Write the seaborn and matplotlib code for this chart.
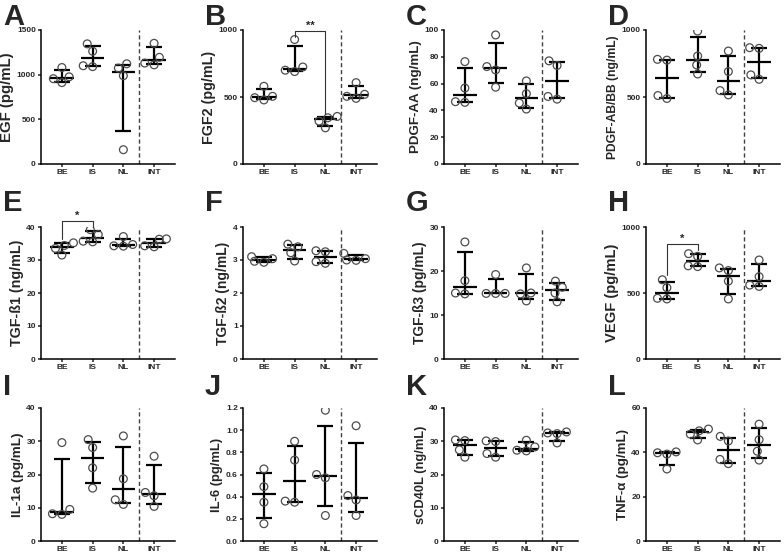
import numpy as np
import pandas as pd
import seaborn as sns
import matplotlib.pyplot as plt
from matplotlib.ticker import FormatStrFormatter

groups = ["BE", "IS", "NL", "INT"]
letters = list("ABCDEFGHIJKL")
ylabels = ["EGF (pg/mL)", "FGF2 (pg/mL)", "PDGF-AA (ng/mL)", "PDGF-AB/BB (ng/mL)",
           "TGF-ß1 (ng/mL)", "TGF-ß2 (ng/mL)", "TGF-ß3 (pg/mL)", "VEGF (pg/mL)",
           "IL-1a (pg/mL)", "IL-6 (pg/mL)", "sCD40L (ng/mL)", "TNF-α (pg/mL)"]
ymax = [1500, 1000, 100, 1000, 40, 4, 30, 1000, 40, 1.2, 40, 60]
ystep = [500, 500, 20, 500, 10, 1, 10, 500, 10, 0.2, 10, 20]

# four samples per group: BE, IS, NL, INT
egf = [[911, 955, 976, 1080], [1090, 1100, 1262, 1345], [160, 988, 1074, 1122], [1110, 1130, 1194, 1351]]
fgf2 = [[478, 495, 505, 580], [690, 700, 724, 929], [270, 320, 345, 355], [490, 505, 520, 607]]
pdgf_aa = [[46, 46.5, 56.7, 76.4], [57.3, 70.2, 72.7, 96.3], [41, 45.5, 52.5, 62], [48.4, 50.4, 73.5, 77]]
pdgf_abbb = [[489, 511, 775, 781], [672, 739, 806, 992], [516, 548, 690, 843], [632, 665, 863, 868]]
tgfb1 = [[31.5, 33.5, 34.4, 35.2], [35.5, 35.7, 37.7, 39.2], [34.2, 34.3, 34.7, 37.1], [34.0, 34.3, 36.3, 36.4]]
tgfb2 = [[2.93, 2.96, 3.04, 3.10], [2.97, 3.22, 3.40, 3.48], [2.90, 2.95, 3.25, 3.28], [2.99, 3.00, 3.04, 3.20]]
tgfb3 = [[14.8, 15.0, 17.8, 26.6], [14.9, 14.9, 14.9, 19.2], [13.2, 14.8, 15.0, 20.7], [13.0, 15.0, 16.3, 17.7]]
vegf = [[455, 460, 540, 600], [700, 706, 778, 798], [455, 590, 670, 690], [550, 560, 624, 750]]
il1a = [[8.0, 8.2, 9.5, 29.6], [15.9, 22.0, 28.1, 30.5], [11.0, 12.4, 18.7, 31.6], [10.4, 13.6, 14.6, 25.5]]
il6 = [[0.156, 0.35, 0.49, 0.65], [0.35, 0.36, 0.73, 0.90], [0.23, 0.57, 0.60, 1.18], [0.23, 0.37, 0.41, 1.04]]
scd40l = [[25.2, 27.4, 30.2, 30.4], [25.2, 26.3, 29.9, 30.1], [27.1, 27.3, 28.3, 30.3], [29.5, 32.3, 32.5, 32.8]]
tnfa = [[32.5, 39.2, 39.8, 40.2], [45.6, 48.2, 49.7, 50.5], [34.9, 36.8, 45.1, 47.2], [36.5, 40.5, 45.7, 52.7]]
panels = [egf, fgf2, pdgf_aa, pdgf_abbb, tgfb1, tgfb2, tgfb3, vegf, il1a, il6, scd40l, tnfa]

# significance brackets: panel, from group, to group, bar height, left end, right end, label
sig = [(1, 1, 2, 990, 950, 370, "**"),
       (4, 0, 1, 41.8, 36.5, 40.0, "*"),
       (7, 0, 1, 871, 636, 822, "*")]

sns.set_style("ticks")
plt.rcParams["font.family"] = ["Liberation Sans", "DejaVu Sans"]
plt.rcParams["font.weight"] = "bold"
plt.rcParams["axes.labelweight"] = "bold"

W, H = 784, 555
col_left = [41, 243, 444, 646]
row_top = [30, 227, 408]
row_bot = [164, 359, 541]
letter_base = [25, 211, 395]
ax_w = 134
label_size = [10.8, 10.3, 9.6, 8.7, 10.3, 10.0, 9.9, 10.6, 9.7, 9.4, 9.3, 9.6]

fig = plt.figure(figsize=(7.84, 5.55), dpi=100)
axes = []
for i, data in enumerate(panels):
    r, c = divmod(i, 4)
    ax = fig.add_axes([col_left[c] / W, 1 - row_bot[r] / H, ax_w / W, (row_bot[r] - row_top[r]) / H])
    axes.append(ax)
    df = pd.DataFrame({"group": np.repeat(groups, [len(v) for v in data]),
                       "value": np.concatenate(data)})
    ax.set_xlim(-0.68, 3.68)
    ax.set_ylim(0, ymax[i])
    sns.swarmplot(data=df, x="group", y="value", order=groups, ax=ax, size=5.6, color="0.3", zorder=4)
    for coll in ax.collections:
        coll.set_facecolor("none")
        coll.set_edgecolor("0.3")
        coll.set_linewidth(0.9)

    q1, med, q3 = np.percentile(np.array(data), [25, 50, 75], axis=1, method="weibull")
    pos = np.arange(len(groups))
    ax.errorbar(pos, med, yerr=[med - q1, q3 - med], fmt="none", ecolor="black",
                elinewidth=1.6, capsize=5.5, capthick=1.6, zorder=3)
    ax.hlines(med, pos - 0.38, pos + 0.38, color="black", lw=1.6, zorder=3)
    ax.axvline(2.5, color="0.25", lw=1.0, ls=(0, (3, 2)), zorder=1)

    ax.set_xlim(-0.68, 3.68)
    ax.set_ylim(0, ymax[i])
    ax.set_yticks(np.arange(0, ymax[i] + ystep[i] / 2, ystep[i]))
    if i == 9:
        ax.yaxis.set_major_formatter(FormatStrFormatter("%.1f"))
    ax.set_xlabel("")
    ax.set_ylabel(ylabels[i], fontsize=label_size[i], labelpad=2)
    ax.tick_params(labelsize=6, width=1.1, length=2.5, pad=1.2)
    sns.despine(ax=ax)
    for s in ["left", "bottom"]:
        ax.spines[s].set_linewidth(1.1)
        ax.spines[s].set_color("black")

    fig.text((col_left[c] - 38) / W, 1 - letter_base[r] / H, letters[i],
             fontsize=21, fontweight="bold", ha="left", va="baseline")

for p, x1, x2, y, yl, yr, txt in sig:
    ax = axes[p]
    ax.plot([x1, x1, x2, x2], [yl, y, y, yr], color="0.2", lw=0.8, clip_on=False, zorder=5)
    ax.text((x1 + x2) / 2, y, txt, ha="center", va="bottom", fontsize=8)

fig.savefig("out.png", dpi=100)
